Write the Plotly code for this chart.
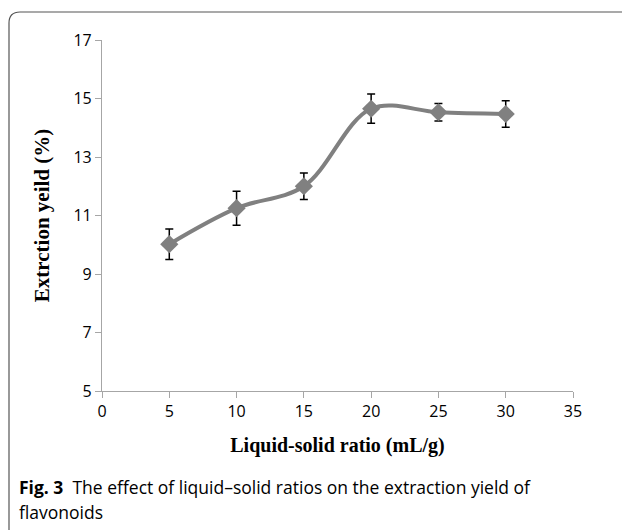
import plotly.graph_objects as go

ratios = [5, 10, 15, 20, 25, 30]
yields = [10.02, 11.25, 12.0, 14.65, 14.53, 14.47]
errors = [0.52, 0.58, 0.45, 0.5, 0.3, 0.45]
x_ticks = [0, 5, 10, 15, 20, 25, 30, 35]
y_ticks = [5, 7, 9, 11, 13, 15, 17]

OFF = 8  # page body margin offset
W, H = 630, 530
L, R, T, B = 102 - OFF, 57 + OFF, 40 - OFF, 139 + OFF
pw, ph = W - L - R, H - T - B

def px(x):
    return (x - OFF - L) / pw

def py(y):
    return (H - B - (y - OFF)) / ph

fig = go.Figure()
fig.add_trace(go.Scatter(
    x=ratios, y=yields,
    mode="lines+markers",
    line=dict(color="#808080", width=4, shape="spline", smoothing=1),
    marker=dict(symbol="diamond", size=14, color="#808080"),
    error_y=dict(type="data", array=errors, visible=True, color="black",
                 thickness=1.5, width=4),
    showlegend=False,
))

tickfont = dict(family="Open Sans, Noto Sans, sans-serif", size=16, color="black")
fig.update_xaxes(range=[0, 35], tickvals=x_ticks, showgrid=False, zeroline=False,
                 showline=True, linecolor="#a6a6a6", linewidth=1.2,
                 ticks="outside", tickcolor="#a6a6a6", ticklen=6,
                 tickfont=tickfont,
                 title=dict(text="<b>Liquid-solid ratio (mL/g)</b>", standoff=16,
                            font=dict(family="Liberation Serif", size=20, color="black")))
fig.update_yaxes(range=[5, 17], tickvals=y_ticks, showgrid=False, zeroline=False,
                 showline=True, linecolor="#a6a6a6", linewidth=1.2,
                 ticks="outside", tickcolor="#a6a6a6", ticklen=6,
                 tickfont=tickfont,
                 title=dict(text="<b>Extrction yeild (%)</b>", standoff=18,
                            font=dict(family="Liberation Serif", size=21, color="black")))

# rounded frame
path = (f"M {px(9)},{py(540)} L {px(9)},{py(23)} "
        f"Q {px(9)},{py(12)} {px(20)},{py(12)} "
        f"L {px(622)},{py(12)} Q {px(628)},{py(12)} {px(634)},{py(18)}")
fig.add_shape(type="path", path=path, xref="paper", yref="paper",
              line=dict(color="#555555", width=1.2))

capfont = dict(family="Open Sans, Noto Sans, sans-serif", size=17.5, color="black")
fig.add_annotation(x=px(17), y=py(487), xref="paper", yref="paper",
                   xanchor="left", yanchor="middle", showarrow=False, align="left",
                   text="<b>Fig. 3</b>  The effect of liquid–solid ratios on the extraction yield of",
                   font=capfont)
fig.add_annotation(x=px(17), y=py(512), xref="paper", yref="paper",
                   xanchor="left", yanchor="middle", showarrow=False, align="left",
                   text="flavonoids", font=capfont)

fig.update_layout(width=W, height=H, margin=dict(l=L, r=R, t=T, b=B),
                  paper_bgcolor="white", plot_bgcolor="white")
fig.write_html("out.html")
